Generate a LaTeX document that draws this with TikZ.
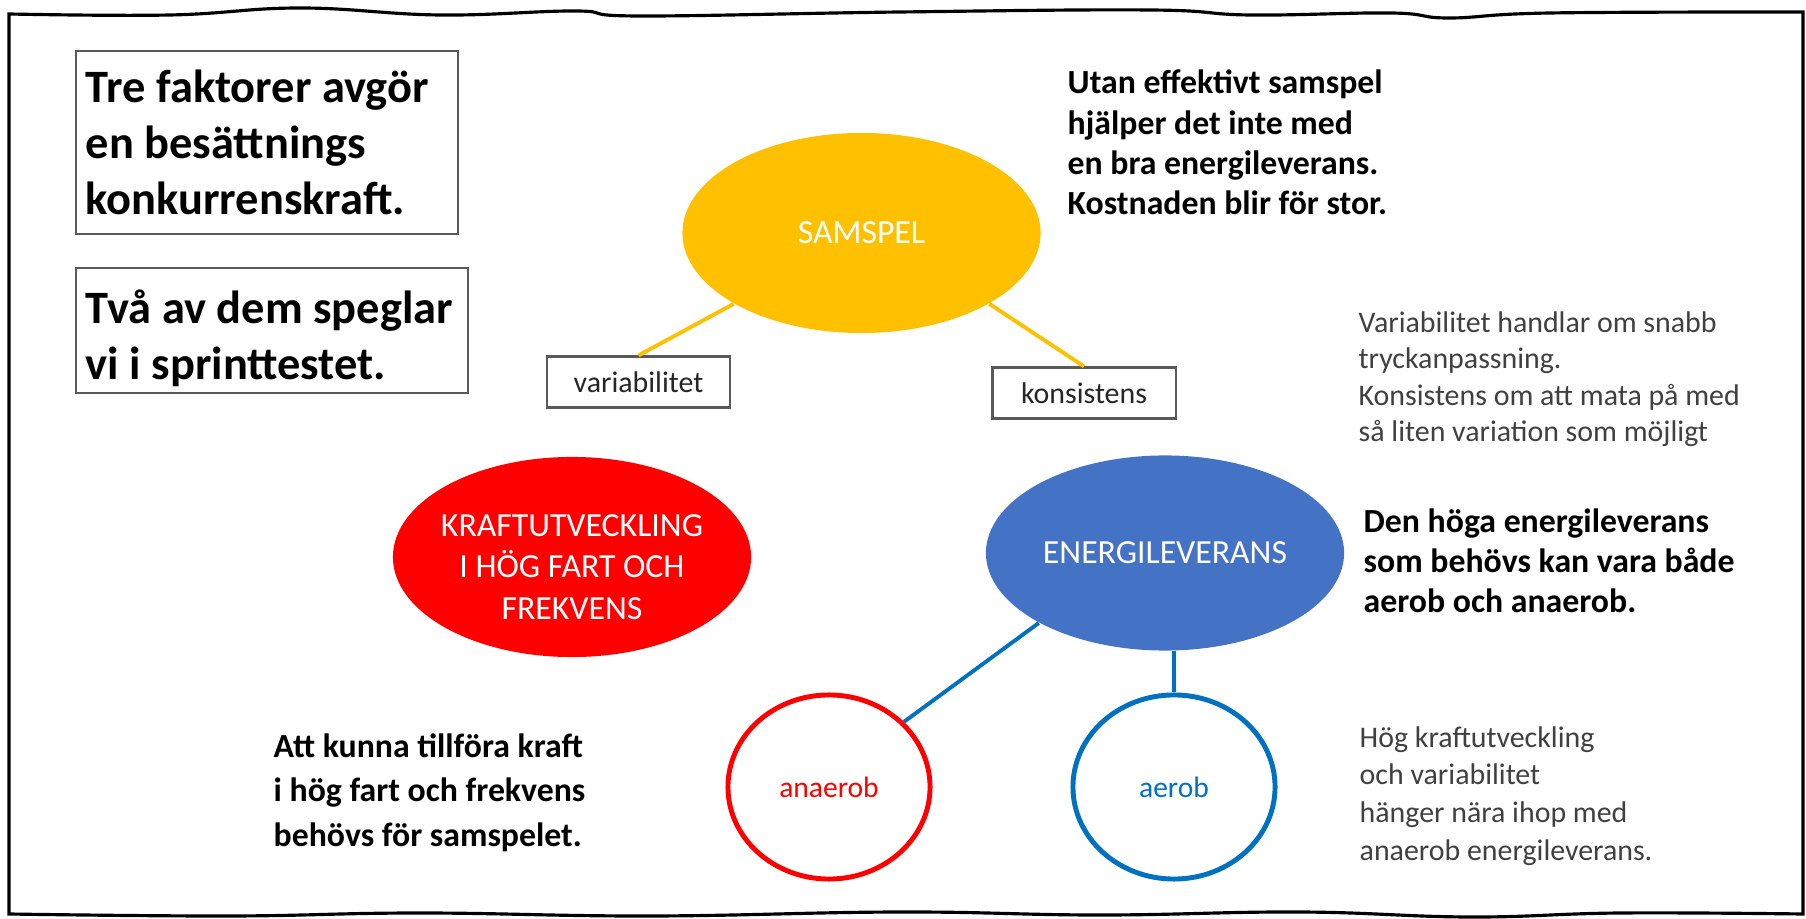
\documentclass[tikz,border=0pt]{standalone}
\usepackage{fontspec}
\setmainfont{Carlito}
\usepackage{tikz}
\usetikzlibrary{shapes.geometric}
\definecolor{samspelgul}{HTML}{FFC000}
\definecolor{kraftrod}{HTML}{FF0000}
\definecolor{energiblue}{HTML}{4472C4}
\definecolor{linjeblue}{HTML}{0070C0}
\definecolor{ramgray}{HTML}{595959}
\definecolor{notgray}{HTML}{404040}
\tikzstyle{faktor} =
[ellipse, minimum width = 3.58cm, minimum height = 2cm, inner sep = 0pt,
align = center, text = white, font = \fontsize{9.6}{11.7}\selectfont]
\tikzstyle{delfaktor} =
[ellipse, minimum width = 2.02cm, minimum height = 1.84cm, line width = 1.4pt,
fill = white, font = \fontsize{8.4}{10}\selectfont]
\tikzstyle{etikett} =
[rectangle, minimum width = 1.83cm, minimum height = 0.51cm, text centered,
draw = ramgray, line width = 0.6pt, text = black!85,
font = \fontsize{8.5}{10}\selectfont]
\tikzstyle{rubrik} =
[rectangle, minimum height = 1.83cm, text width = 3.62cm, align = flush left,
inner xsep = 0.1cm, inner ysep = 0pt, draw = ramgray, line width = 0.6pt,
font = \bfseries\fontsize{13.2}{15.9}\selectfont]
\tikzstyle{fettext} =
[anchor = base west, inner sep = 0pt, align = left,
font = \bfseries\fontsize{9.6}{11.5}\selectfont]
\tikzstyle{notis} =
[anchor = base west, inner sep = 0pt, align = left, text = notgray,
font = \fontsize{8.5}{10.4}\selectfont]
\tikzstyle{ram} = [draw, line width = 0.9pt]
\tikzstyle{gulline} = [draw = samspelgul, line width = 1.1pt]
\tikzstyle{blaline} = [draw = linjeblue, line width = 1.1pt]

\begin{document}
\begin{tikzpicture}[x = 0.01cm, y = -0.01cm, node distance = 1.5cm]
  \useasboundingbox (0,0) rectangle (1806,919);
  % ram
  \path [ram] plot [smooth, tension = 0.7] coordinates {
    (9,14) (170,15) (300,8) (440,15) (575,11) (640,16) (900,12)
    (1150,10) (1250,15) (1391,13) (1449,18) (1550,13) (1803,12)}
    -- plot [smooth, tension = 0.7] coordinates {
    (1803,914) (1620,913) (1470,917) (1300,912) (1100,915)
    (900,912) (650,916) (420,913) (230,916) (9,914)}
    -- cycle;
  %
  % rutor
  \node [rubrik] (tre) at (267,142.5)
   {Tre faktorer avgör\\ en besättnings\\ konkurrenskraft.};
  \node [rubrik, text width = 3.72cm, minimum height = 1.25cm] (tva)
   at (272,330.5) {\rule{0pt}{0.5cm}Två av dem speglar\\ vi i sprinttestet.};
  %
  % faktorer
  \node [faktor, fill = samspelgul] (samspel) at (861.5,233) {SAMSPEL};
  \node [faktor, fill = kraftrod, inner xsep = -2mm] (kraft) at (572,557)
   {\rule{0pt}{0.42cm}KRAFTUTVECKLING\\ I HÖG FART OCH\\ FREKVENS};
  \node [faktor, fill = energiblue, minimum height = 1.95cm] (energi)
   at (1165,553) {ENERGILEVERANS};
  %
  % delar
  \node [etikett] (variab) at (638.5,382) {variabilitet};
  \node [etikett] (konsist) at (1084,393) {konsistens};
  \node [delfaktor, draw = kraftrod, text = kraftrod] (anaerob)
   at (829,787) {anaerob};
  \node [delfaktor, draw = linjeblue, text = linjeblue] (aerob)
   at (1174,787) {aerob};
  % linjer
  \path [gulline] (samspel.209) -- (variab.north);
  \path [gulline] (samspel.331) -- (konsist.north);
  \path [blaline] (energi.209) -- (anaerob.41);
  \path [blaline] (aerob.north |- energi.south) -- (aerob.north);
  %
  % texter
  \node [fettext] (utan) at (1067,215)
   {Utan effektivt samspel\\ hjälper det inte med\\ en bra energileverans.\\
    Kostnaden blir för stor.};
  \node [notis] (variation) at (1358,442)
   {Variabilitet handlar om snabb\\ tryckanpassning.\\
    Konsistens om att mata på med\\ så liten variation som möjligt};
  \node [fettext] (hoga) at (1363,613)
   {Den höga energileverans\\ som behövs kan vara både\\ aerob och anaerob.};
  \node [notis, font = \fontsize{8.5}{10.7}\selectfont] (koppling)
   at (1359,860)
   {Hög kraftutveckling\\ och variabilitet\\ hänger nära ihop med\\
    anaerob energileverans.};
  \node [fettext, font = \bfseries\fontsize{9.6}{12.6}\selectfont] (tillfora)
   at (273,846)
   {Att kunna tillföra kraft\\ i hög fart och frekvens\\ behövs för samspelet.};
\end{tikzpicture}
\end{document}
